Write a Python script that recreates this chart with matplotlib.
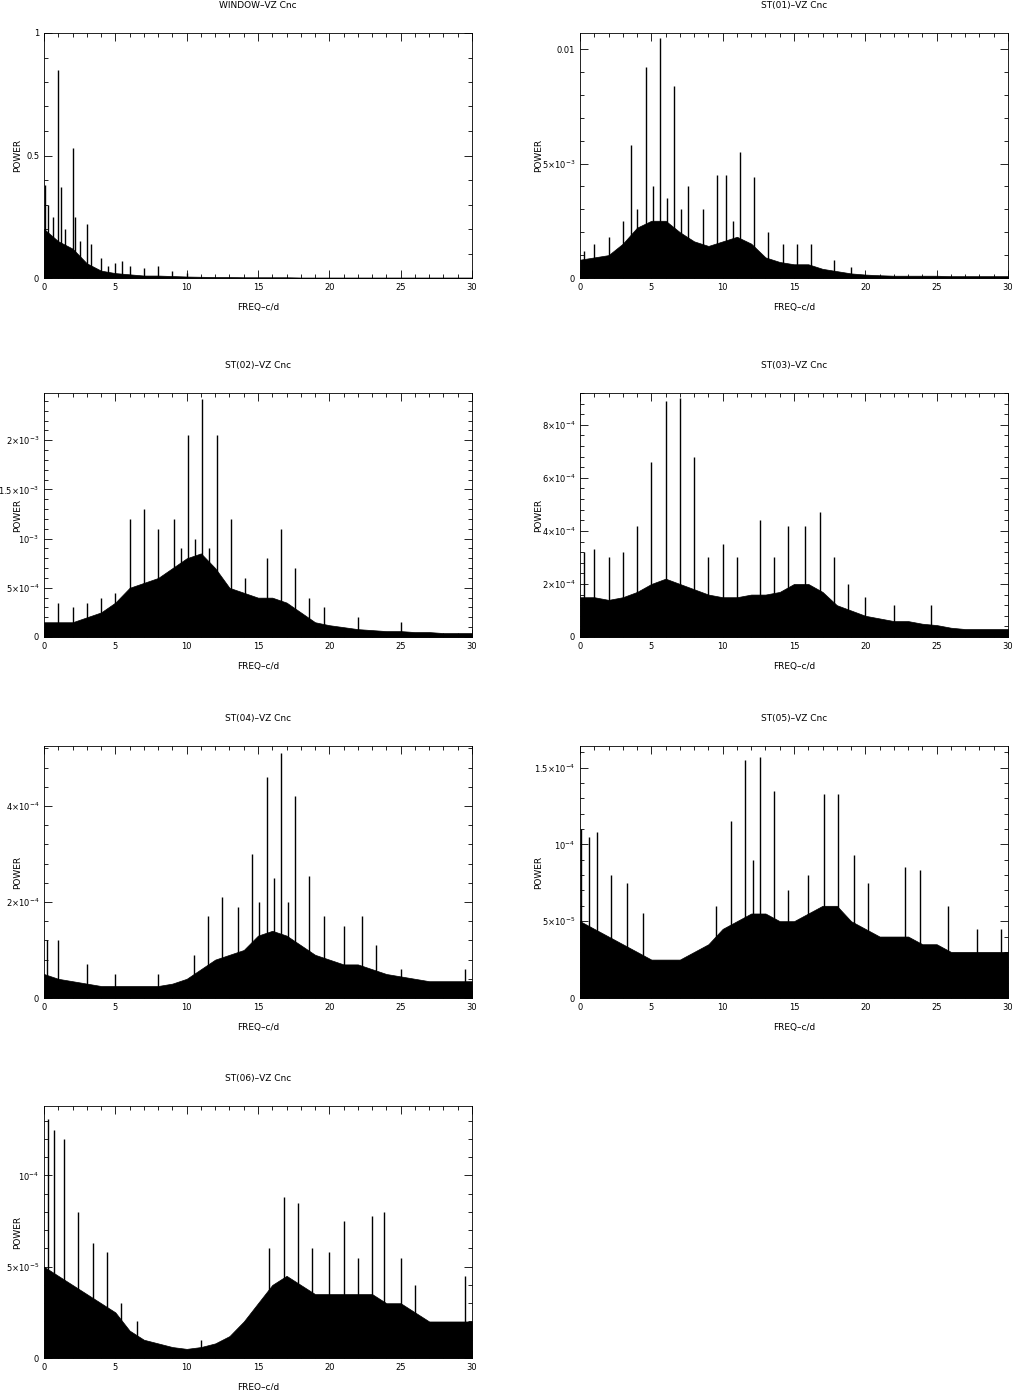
import numpy as np
import matplotlib.pyplot as plt
from matplotlib.ticker import FixedLocator, AutoMinorLocator

titles = ["WINDOW\u2013VZ Cnc", "ST(01)\u2013VZ Cnc", "ST(02)\u2013VZ Cnc", "ST(03)\u2013VZ Cnc",
          "ST(04)\u2013VZ Cnc", "ST(05)\u2013VZ Cnc", "ST(06)\u2013VZ Cnc"]

# peak frequencies (c/d) and heights
peak_f = [
    [0.1, 0.3, 0.6, 1.0, 1.2, 1.5, 2.0, 2.2, 2.5, 3.0, 3.3, 4.0, 4.5, 5.0, 5.5, 6.0, 7.0, 8.0, 9.0, 10.0],
    [0.3, 1.0, 2.0, 3.0, 3.6, 4.0, 4.6, 5.1, 5.6, 6.1, 6.6, 7.1, 7.6, 8.6, 9.6, 10.2, 10.7, 11.2, 12.2, 13.2, 14.2, 15.2, 16.2, 17.8, 19.0],
    [1.0, 2.0, 3.0, 4.0, 5.0, 6.0, 7.0, 8.0, 9.1, 9.6, 10.1, 10.6, 11.1, 11.6, 12.1, 13.1, 14.1, 15.6, 16.6, 17.6, 18.6, 19.6, 22.0, 25.0],
    [0.3, 1.0, 2.0, 3.0, 4.0, 5.0, 6.0, 7.0, 8.0, 9.0, 10.0, 11.0, 12.6, 13.6, 14.6, 15.8, 16.8, 17.8, 18.8, 20.0, 22.0, 24.6],
    [0.2, 1.0, 3.0, 5.0, 8.0, 10.5, 11.5, 12.5, 13.6, 14.6, 15.1, 15.6, 16.1, 16.6, 17.1, 17.6, 18.6, 19.6, 21.0, 22.3, 23.3, 25.0, 29.5],
    [0.1, 0.6, 1.2, 2.2, 3.3, 4.4, 9.5, 10.6, 11.6, 12.1, 12.6, 13.6, 14.6, 16.0, 17.1, 18.1, 19.2, 20.2, 22.8, 23.8, 25.8, 27.8, 29.5],
    [0.3, 0.7, 1.4, 2.4, 3.4, 4.4, 5.4, 6.5, 11.0, 15.8, 16.8, 17.8, 18.8, 20.0, 21.0, 22.0, 23.0, 23.8, 25.0, 26.0, 29.5],
]
peak_p = [
    [0.38, 0.30, 0.25, 0.85, 0.37, 0.20, 0.53, 0.25, 0.15, 0.22, 0.14, 0.08, 0.05, 0.06, 0.07, 0.05, 0.04, 0.05, 0.03, 0.02],
    [1.2e-3, 1.5e-3, 1.8e-3, 2.5e-3, 5.8e-3, 3.0e-3, 9.2e-3, 4.0e-3, 10.5e-3, 3.5e-3, 8.4e-3, 3.0e-3, 4.0e-3, 3.0e-3, 4.5e-3, 4.5e-3, 2.5e-3, 5.5e-3, 4.4e-3, 2.0e-3, 1.5e-3, 1.5e-3, 1.5e-3, 0.8e-3, 0.5e-3],
    [0.35e-3, 0.3e-3, 0.35e-3, 0.4e-3, 0.45e-3, 1.2e-3, 1.3e-3, 1.1e-3, 1.2e-3, 0.9e-3, 2.05e-3, 1.0e-3, 2.42e-3, 0.9e-3, 2.05e-3, 1.2e-3, 0.6e-3, 0.8e-3, 1.1e-3, 0.7e-3, 0.4e-3, 0.3e-3, 0.2e-3, 0.15e-3],
    [3.2e-4, 3.3e-4, 3.0e-4, 3.2e-4, 4.2e-4, 6.6e-4, 8.9e-4, 9.0e-4, 6.8e-4, 3.0e-4, 3.5e-4, 3.0e-4, 4.4e-4, 3.0e-4, 4.2e-4, 4.2e-4, 4.7e-4, 3.0e-4, 2.0e-4, 1.5e-4, 1.2e-4, 1.2e-4],
    [1.2e-4, 1.2e-4, 0.7e-4, 0.5e-4, 0.5e-4, 0.9e-4, 1.7e-4, 2.1e-4, 1.9e-4, 3.0e-4, 2.0e-4, 4.6e-4, 2.5e-4, 5.1e-4, 2.0e-4, 4.2e-4, 2.55e-4, 1.7e-4, 1.5e-4, 1.7e-4, 1.1e-4, 0.6e-4, 0.6e-4],
    [1.1e-4, 1.05e-4, 1.08e-4, 0.8e-4, 0.75e-4, 0.55e-4, 0.6e-4, 1.15e-4, 1.55e-4, 0.9e-4, 1.57e-4, 1.35e-4, 0.7e-4, 0.8e-4, 1.33e-4, 1.33e-4, 0.93e-4, 0.75e-4, 0.85e-4, 0.83e-4, 0.6e-4, 0.45e-4, 0.45e-4],
    [1.31e-4, 1.25e-4, 1.2e-4, 0.8e-4, 0.63e-4, 0.58e-4, 0.3e-4, 0.2e-4, 0.1e-4, 0.6e-4, 0.88e-4, 0.85e-4, 0.6e-4, 0.58e-4, 0.75e-4, 0.55e-4, 0.78e-4, 0.8e-4, 0.55e-4, 0.4e-4, 0.45e-4],
]
# dense floor level at each integer frequency 0..30
floor = [
    [0.20, 0.15, 0.12, 0.06, 0.03, 0.02, 0.015, 0.01, 0.01, 0.008, 0.006, 0.005, 0.004, 0.004, 0.003, 0.003, 0.003, 0.003, 0.002, 0.002, 0.002, 0.002, 0.002, 0.002, 0.002, 0.002, 0.002, 0.002, 0.002, 0.002, 0.002],
    [0.8e-3, 0.9e-3, 1.0e-3, 1.5e-3, 2.2e-3, 2.5e-3, 2.5e-3, 2.0e-3, 1.6e-3, 1.4e-3, 1.6e-3, 1.8e-3, 1.5e-3, 0.9e-3, 0.7e-3, 0.6e-3, 0.6e-3, 0.4e-3, 0.3e-3, 0.2e-3, 0.15e-3, 0.12e-3, 0.1e-3, 0.1e-3, 0.1e-3, 0.1e-3, 0.08e-3, 0.08e-3, 0.08e-3, 0.08e-3, 0.08e-3],
    [0.15e-3, 0.15e-3, 0.15e-3, 0.2e-3, 0.25e-3, 0.35e-3, 0.5e-3, 0.55e-3, 0.6e-3, 0.7e-3, 0.8e-3, 0.85e-3, 0.7e-3, 0.5e-3, 0.45e-3, 0.4e-3, 0.4e-3, 0.35e-3, 0.25e-3, 0.15e-3, 0.12e-3, 0.1e-3, 0.08e-3, 0.07e-3, 0.06e-3, 0.06e-3, 0.05e-3, 0.05e-3, 0.04e-3, 0.04e-3, 0.04e-3],
    [1.5e-4, 1.5e-4, 1.4e-4, 1.5e-4, 1.7e-4, 2.0e-4, 2.2e-4, 2.0e-4, 1.8e-4, 1.6e-4, 1.5e-4, 1.5e-4, 1.6e-4, 1.6e-4, 1.7e-4, 2.0e-4, 2.0e-4, 1.7e-4, 1.2e-4, 1.0e-4, 0.8e-4, 0.7e-4, 0.6e-4, 0.6e-4, 0.5e-4, 0.45e-4, 0.35e-4, 0.3e-4, 0.3e-4, 0.3e-4, 0.3e-4],
    [0.5e-4, 0.4e-4, 0.35e-4, 0.3e-4, 0.25e-4, 0.25e-4, 0.25e-4, 0.25e-4, 0.25e-4, 0.3e-4, 0.4e-4, 0.6e-4, 0.8e-4, 0.9e-4, 1.0e-4, 1.3e-4, 1.4e-4, 1.3e-4, 1.1e-4, 0.9e-4, 0.8e-4, 0.7e-4, 0.7e-4, 0.6e-4, 0.5e-4, 0.45e-4, 0.4e-4, 0.35e-4, 0.35e-4, 0.35e-4, 0.35e-4],
    [0.5e-4, 0.45e-4, 0.4e-4, 0.35e-4, 0.3e-4, 0.25e-4, 0.25e-4, 0.25e-4, 0.3e-4, 0.35e-4, 0.45e-4, 0.5e-4, 0.55e-4, 0.55e-4, 0.5e-4, 0.5e-4, 0.55e-4, 0.6e-4, 0.6e-4, 0.5e-4, 0.45e-4, 0.4e-4, 0.4e-4, 0.4e-4, 0.35e-4, 0.35e-4, 0.3e-4, 0.3e-4, 0.3e-4, 0.3e-4, 0.3e-4],
    [0.5e-4, 0.45e-4, 0.4e-4, 0.35e-4, 0.3e-4, 0.25e-4, 0.15e-4, 0.1e-4, 0.08e-4, 0.06e-4, 0.05e-4, 0.06e-4, 0.08e-4, 0.12e-4, 0.2e-4, 0.3e-4, 0.4e-4, 0.45e-4, 0.4e-4, 0.35e-4, 0.35e-4, 0.35e-4, 0.35e-4, 0.35e-4, 0.3e-4, 0.3e-4, 0.25e-4, 0.2e-4, 0.2e-4, 0.2e-4, 0.2e-4],
]
ytop = [1.0, 0.0107, 2.48e-3, 9.2e-4, 5.25e-4, 1.64e-4, 1.38e-4]
yticks = [[0, 0.5, 1], [0, 5e-3, 0.01], [0, 5e-4, 1e-3, 1.5e-3, 2e-3, 2.5e-3],
          [0, 2e-4, 4e-4, 6e-4, 8e-4], [0, 2e-4, 4e-4], [0, 5e-5, 1e-4, 1.5e-4], [0, 5e-5, 1e-4]]
ylabels = [["0", "0.5", "1"], ["0", r"5$\times$10$^{-3}$", "0.01"],
           ["0", r"5$\times$10$^{-4}$", r"10$^{-3}$", r"1.5$\times$10$^{-3}$", r"2$\times$10$^{-3}$", r"2.5$\times$10$^{-3}$"],
           ["0", r"2$\times$10$^{-4}$", r"4$\times$10$^{-4}$", r"6$\times$10$^{-4}$", r"8$\times$10$^{-4}$"],
           ["0", r"2$\times$10$^{-4}$", r"4$\times$10$^{-4}$"],
           ["0", r"5$\times$10$^{-5}$", r"10$^{-4}$", r"1.5$\times$10$^{-4}$"],
           ["0", r"5$\times$10$^{-5}$", r"10$^{-4}$"]]

W, H = 1014, 1390
fig = plt.figure(figsize=(W / 100, H / 100), dpi=100)
lefts = [44, 580]
rows = [(33, 278), (393, 637), (746, 998), (1106, 1358)]
freq = np.arange(31)

for i in range(7):
    r, c = divmod(i, 2)
    top, bot = rows[r]
    ax = fig.add_axes([lefts[c] / W, 1 - bot / H, 428 / W, (bot - top) / H])
    ax.fill_between(freq, 0, floor[i], color="black", lw=0.5)
    ax.vlines(peak_f[i], 0, peak_p[i], color="black", lw=1.0)
    ax.set_xlim(0, 30)
    ax.set_ylim(0, ytop[i])
    ax.xaxis.set_major_locator(FixedLocator([0, 5, 10, 15, 20, 25, 30]))
    ax.xaxis.set_minor_locator(AutoMinorLocator(5))
    ax.yaxis.set_major_locator(FixedLocator(yticks[i]))
    ax.set_yticklabels(ylabels[i])
    ax.yaxis.set_minor_locator(AutoMinorLocator(5))
    ax.tick_params(which="both", direction="in", top=True, right=True, labelsize=6, width=0.6)
    ax.tick_params(which="major", length=6)
    ax.tick_params(which="minor", length=3)
    for s in ax.spines.values():
        s.set_linewidth(0.6)
    ax.set_title(titles[i], fontsize=6.5, pad=18)
    ax.set_xlabel("FREQ\u2013c/d", fontsize=6.5, labelpad=8)
    ax.set_ylabel("POWER", fontsize=6.5)
    ax.yaxis.set_label_coords(-0.05 if c == 0 else -0.085, 0.5)

fig.savefig("out.png", dpi=100)
